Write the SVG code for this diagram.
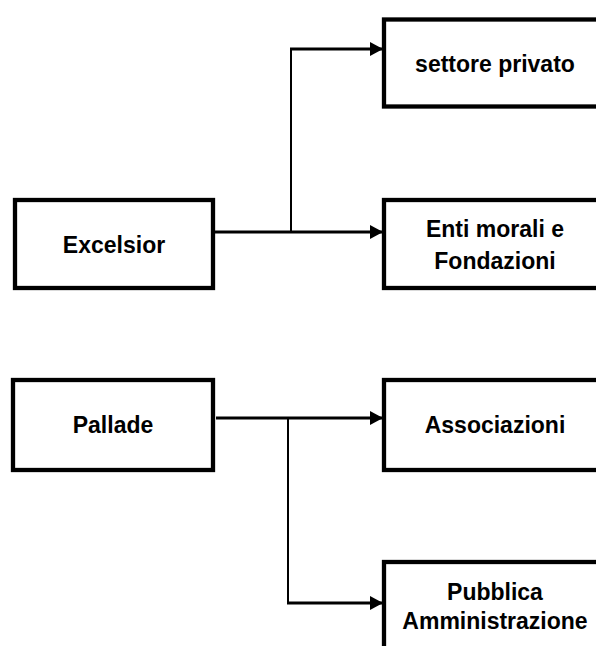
<svg xmlns="http://www.w3.org/2000/svg" width="596" height="646" viewBox="0 0 596 646">
  <style>
    .box { fill: #ffffff; stroke: #000000; stroke-width: 4.3; }
    .lbl { font-family: "Liberation Sans", Arial, sans-serif; font-weight: bold; font-size: 23px; fill: #000000; text-anchor: middle; }
    .arr { fill: none; stroke: #000000; stroke-width: 3; marker-end: url(#ah); }
    .trunk { fill: none; stroke: #000000; stroke-width: 2; }
  </style>
  <defs>
    <marker id="ah" viewBox="0 0 13 14" refX="13" refY="7" markerWidth="13" markerHeight="14" markerUnits="userSpaceOnUse" orient="auto">
      <path d="M0,0 L13,7 L0,14 Z" fill="#000000"/>
    </marker>
  </defs>
  <rect width="596" height="646" fill="#ffffff"/>

  <g id="connectors">
    <line class="trunk" x1="291" y1="49" x2="291" y2="232"/>
    <line class="arr" x1="290" y1="49" x2="383" y2="49"/>
    <line class="arr" x1="215" y1="232" x2="383" y2="232"/>
    <line class="trunk" x1="288" y1="418" x2="288" y2="603"/>
    <line class="arr" x1="216" y1="418" x2="383" y2="418"/>
    <line class="arr" x1="287" y1="603" x2="383" y2="603"/>
  </g>

  <g id="node-settore-privato">
    <rect class="box" x="384" y="19.5" width="221" height="87"/>
    <text class="lbl" x="495" y="72">settore privato</text>
  </g>

  <g id="node-excelsior">
    <rect class="box" x="15" y="200" width="198" height="88"/>
    <text class="lbl" x="114" y="253">Excelsior</text>
  </g>

  <g id="node-enti-morali">
    <rect class="box" x="384" y="200" width="221" height="88"/>
    <text class="lbl" x="495" y="237">Enti morali e</text>
    <text class="lbl" x="495" y="269">Fondazioni</text>
  </g>

  <g id="node-pallade">
    <rect class="box" x="13" y="380" width="200" height="90"/>
    <text class="lbl" x="113" y="433">Pallade</text>
  </g>

  <g id="node-associazioni">
    <rect class="box" x="384" y="380" width="221" height="90"/>
    <text class="lbl" x="495" y="433">Associazioni</text>
  </g>

  <g id="node-pubblica-amministrazione">
    <rect class="box" x="384" y="562" width="221" height="92"/>
    <text class="lbl" x="495" y="600">Pubblica</text>
    <text class="lbl" x="495" y="629">Amministrazione</text>
  </g>
</svg>
